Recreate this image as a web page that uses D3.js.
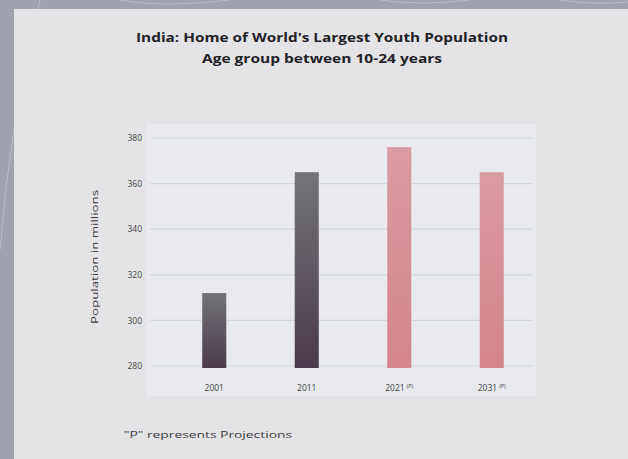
<!DOCTYPE html>
<html>
<head>
<meta charset="utf-8">
<script src="https://cdn.jsdelivr.net/npm/d3@7"></script>
<style>
body { margin: 0; background: #9ea3ad; }
svg { display: block; font-family: "Open Sans", sans-serif; }
</style>
</head>
<body>
<svg></svg>
<script>
const YEARS = ["2001", "2011", "2021", "2031"];
const POPULATION = [312, 365, 376, 365];
const PROJECTED = [false, false, true, true];
const Y_TICKS = [280, 300, 320, 340, 360, 380];

const WIDTH = 628;
const HEIGHT = 459;

const svg = d3.select('svg')
.attr('width', WIDTH)
.attr('height', HEIGHT);

// gradients for the bars
const defs = svg.append('defs');
const darkGrad = defs.append('linearGradient').attr('id', 'dark').attr('x1', 0).attr('x2', 0).attr('y1', 0).attr('y2', 1);
darkGrad.append('stop').attr('offset', '0%').attr('stop-color', '#747478');
darkGrad.append('stop').attr('offset', '100%').attr('stop-color', '#4a3a4b');
const pinkGrad = defs.append('linearGradient').attr('id', 'pink').attr('x1', 0).attr('x2', 0).attr('y1', 0).attr('y2', 1);
pinkGrad.append('stop').attr('offset', '0%').attr('stop-color', '#d99ba3');
pinkGrad.append('stop').attr('offset', '100%').attr('stop-color', '#d6848d');

// outer backdrop lines
const deco = svg.append('g').attr('fill', 'none').attr('stroke', '#c4c8cf').attr('stroke-width', 1).attr('opacity', 0.7);
deco.append('path').attr('d', 'M0,250 Q10,120 40,0');
deco.append('path').attr('d', 'M120,0 Q160,8 230,0');
deco.append('path').attr('d', 'M380,0 Q420,6 470,0');
deco.append('path').attr('d', 'M560,0 Q590,5 628,2');

// panel
svg.append('rect')
.attr('x', 14).attr('y', 9)
.attr('width', WIDTH - 14).attr('height', HEIGHT - 9)
.attr('fill', '#e4e4e6');

// plot background
svg.append('rect')
.attr('x', 146).attr('y', 124)
.attr('width', 390).attr('height', 272)
.attr('fill', '#e8eaee');

// title
svg.append('text')
.attr('x', 322).attr('y', 42)
.attr('text-anchor', 'middle')
.attr('font-size', 12.5).attr('font-weight', 700)
.attr('fill', '#222226')
.attr('textLength', 372).attr('lengthAdjust', 'spacingAndGlyphs')
.text("India: Home of World's Largest Youth Population");

svg.append('text')
.attr('x', 322).attr('y', 63)
.attr('text-anchor', 'middle')
.attr('font-size', 12.5).attr('font-weight', 700)
.attr('fill', '#222226')
.attr('textLength', 240).attr('lengthAdjust', 'spacingAndGlyphs')
.text('Age group between 10-24 years');

// scales
const xScale = d3.scaleBand().domain(YEARS).range([168, 538]).paddingInner(0.74).paddingOuter(0.37);
const yScale = d3.scaleLinear().domain([280, 380]).range([366, 138]);

// gridlines
svg.append('g')
.selectAll('line')
.data(Y_TICKS)
.enter()
.append('line')
.attr('x1', 150).attr('x2', 532)
.attr('y1', d => yScale(d)).attr('y2', d => yScale(d))
.attr('stroke', '#d2d5db').attr('stroke-width', 1.2);

// y axis
const yAxis = svg.append('g')
.attr('transform', 'translate(145,0)')
.call(d3.axisLeft(yScale).tickValues(Y_TICKS).tickSize(0).tickPadding(3));
yAxis.select('.domain').remove();
yAxis.selectAll('text').attr('font-size', 8.5).attr('fill', '#444').attr('font-family', '"Open Sans", sans-serif');

// bars
svg.append('g')
.selectAll('rect')
.data(YEARS)
.enter()
.append('rect')
.attr('x', d => xScale(d))
.attr('width', xScale.bandwidth())
.attr('y', (d, i) => yScale(POPULATION[i]))
.attr('height', (d, i) => yScale(280) - yScale(POPULATION[i]) + 2)
.attr('fill', (d, i) => PROJECTED[i] ? 'url(#pink)' : 'url(#dark)');

// x labels
const xLabels = svg.append('g')
.selectAll('text')
.data(YEARS)
.enter()
.append('text')
.attr('x', d => xScale(d) + xScale.bandwidth() / 2)
.attr('y', 391)
.attr('text-anchor', 'middle')
.attr('font-size', 8.5)
.attr('fill', '#444');
xLabels.append('tspan').text(d => d);
xLabels.filter((d, i) => PROJECTED[i])
.append('tspan')
.attr('dy', -3).attr('dx', 2)
.attr('font-size', 5.5)
.text('(P)');

// y axis title
svg.append('text')
.attr('transform', 'translate(98,257) rotate(-90)')
.attr('text-anchor', 'middle')
.attr('font-size', 9.5)
.attr('fill', '#3c3c40')
.attr('textLength', 134).attr('lengthAdjust', 'spacingAndGlyphs')
.text('Population in millions');

// footnote
svg.append('text')
.attr('x', 124).attr('y', 438)
.attr('font-size', 9)
.attr('fill', '#3c3c40')
.attr('textLength', 168).attr('lengthAdjust', 'spacingAndGlyphs')
.text('"P" represents Projections');
</script>
</body>
</html>
